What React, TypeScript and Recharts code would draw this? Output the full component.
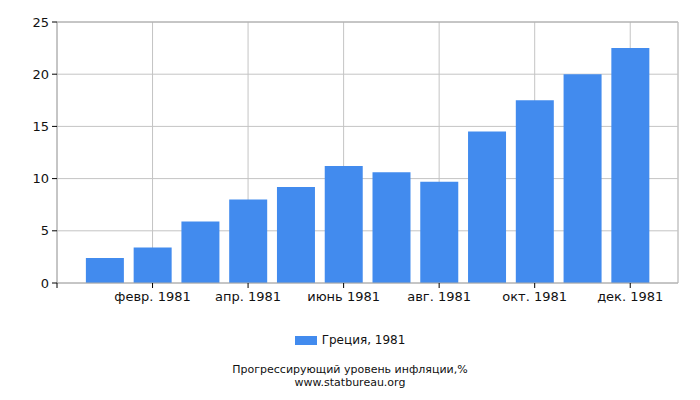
import React from 'react';
import { BarChart, Bar, XAxis, YAxis, CartesianGrid, ReferenceLine } from 'recharts';

// month index (1 = Jan) and inflation values, Greece 1981
const monthIndex = [1, 2, 3, 4, 5, 6, 7, 8, 9, 10, 11, 12];
const inflation = [2.4, 3.4, 5.9, 8.0, 9.2, 11.2, 10.6, 9.7, 14.5, 17.5, 20.0, 22.5];

const xTicks = [0, 2, 4, 6, 8, 10, 12];
const xTickLabels = ['', 'февр. 1981', 'апр. 1981', 'июнь 1981', 'авг. 1981', 'окт. 1981', 'дек. 1981'];
const yTicks = [0, 5, 10, 15, 20, 25];

const seriesName = 'Греция, 1981';
const titleLines = ['Прогрессирующий уровень инфляции,%', 'www.statbureau.org'];

const data = monthIndex.map((m, i) => ({ month: m, value: inflation[i] }));

const font = 'DejaVu Sans, sans-serif';
const barColor = '#428bee';

const App: React.FC = () => (
  <div style={{ position: 'absolute', left: 0, top: 0, width: 700, height: 400, background: '#fff', fontFamily: font }}>
    <BarChart
      width={700}
      height={400}
      data={data}
      margin={{ top: 22, right: 22, left: 0, bottom: 0 }}
    >
      <CartesianGrid stroke="#c4c4c4" strokeWidth={1} />
      <XAxis
        dataKey="month"
        type="number"
        domain={[0, 13]}
        ticks={xTicks}
        tickFormatter={(v: number) => xTickLabels[xTicks.indexOf(v)] ?? ''}
        height={117}
        tickSize={5}
        tickMargin={4}
        axisLine={{ stroke: '#aaaaaa' }}
        tickLine={{ stroke: '#000' }}
        tick={{ fill: '#111', fontSize: 13, fontFamily: font }}
        interval={0}
      />
      <YAxis
        domain={[0, 25]}
        ticks={yTicks}
        width={57}
        tickSize={5}
        tickMargin={3}
        axisLine={{ stroke: '#aaaaaa' }}
        tickLine={{ stroke: '#000' }}
        tick={{ fill: '#111', fontSize: 13, fontFamily: font }}
      />
      <ReferenceLine y={25} stroke="#aaaaaa" />
      <ReferenceLine x={13} stroke="#c4c4c4" />
      <Bar dataKey="value" fill={barColor} barSize={38} isAnimationActive={false} />
    </BarChart>
    <div style={{ position: 'absolute', left: 0, top: 333, width: 700, display: 'flex', justifyContent: 'center', alignItems: 'center', fontSize: 12, color: '#111' }}>
      <span style={{ display: 'inline-block', width: 22, height: 9, background: barColor, marginRight: 5 }} />
      <span>{seriesName}</span>
    </div>
    <div style={{ position: 'absolute', left: 0, top: 363, width: 700, textAlign: 'center', fontSize: 11, lineHeight: '13px', color: '#111' }}>
      {titleLines.map((t) => (
        <div key={t}>{t}</div>
      ))}
    </div>
  </div>
);

export default App;
